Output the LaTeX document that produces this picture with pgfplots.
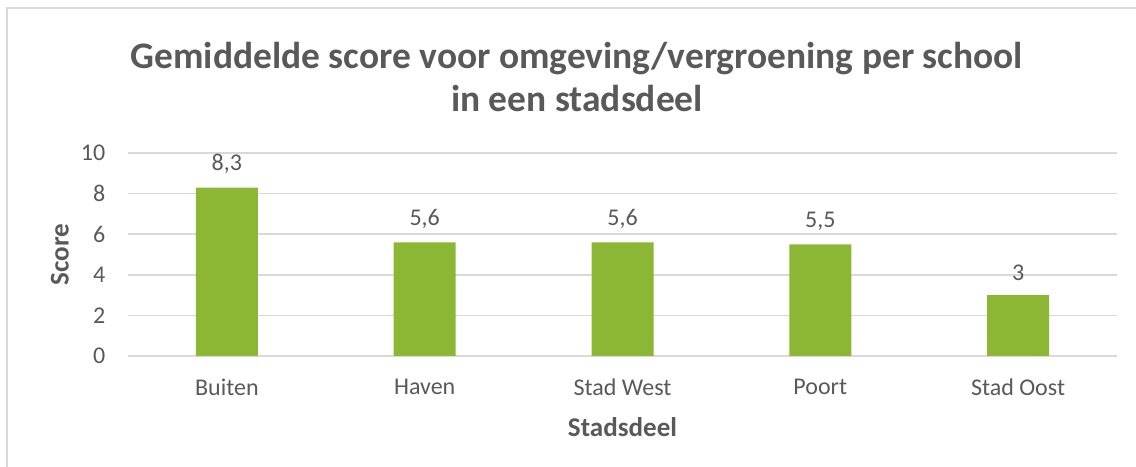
\documentclass[border=0pt]{standalone}
\usepackage{pgfplots}
\pgfplotsset{compat=1.18}
\usepackage{fontspec}
\setmainfont{Carlito}
\definecolor{bargreen}{HTML}{8BB735}
\definecolor{txt}{HTML}{595959}
\definecolor{gridc}{HTML}{D9D9D9}
\begin{document}
\begin{tikzpicture}[x=0.75pt,y=0.75pt]
\path[use as bounding box] (0,0) rectangle (1136,467);
\draw[gridc, line width=1.5pt] (7,-5) -- (7,459) -- (1140,459);
\node[align=center, text=txt, font=\fontsize{28.1}{32.25}\selectfont\bfseries, inner sep=0pt] at (577,390.5) {Gemiddelde score voor omgeving/vergroening per school\\in een stadsdeel};
\begin{axis}[
  at={(96pt,83.25pt)}, anchor=south west,
  scale only axis, width=741.75pt, height=152.25pt,
  xmin=-0.5, xmax=4.5, ymin=0, ymax=10,
  ytick={0,2,4,6,8,10},
  xtick=data,
  xticklabels={Buiten,Haven,Stad West,Poort,Stad Oost},
  axis line style={draw=none},
  major tick length=0pt,
  ymajorgrids,
  grid style={gridc, line width=1.1pt},
  ybar, bar width=46.5pt,
  /pgf/number format/assume math mode=true,
  /pgf/number format/use comma,
  ticklabel style={text=txt, font=\fontsize{18}{20}\selectfont},
  yticklabel style={xshift=-13.5pt},
  xticklabel style={yshift=-13.5pt},
  nodes near coords,
  nodes near coords style={text=txt, font=\fontsize{18}{20}\selectfont, yshift=7pt},
  clip=false,
]
\addplot[fill=bargreen, draw=none] coordinates {(0,8.3) (1,5.6) (2,5.6) (3,5.5) (4,3)};
\node[text=txt, font=\fontsize{20.3}{22}\selectfont\bfseries] at (rel axis cs:0.5,-0.35) {Stadsdeel};
\node[text=txt, font=\fontsize{20.3}{22}\selectfont\bfseries, rotate=90] at (rel axis cs:-0.0688,0.5) {Score};
\end{axis}
\end{tikzpicture}
\end{document}
